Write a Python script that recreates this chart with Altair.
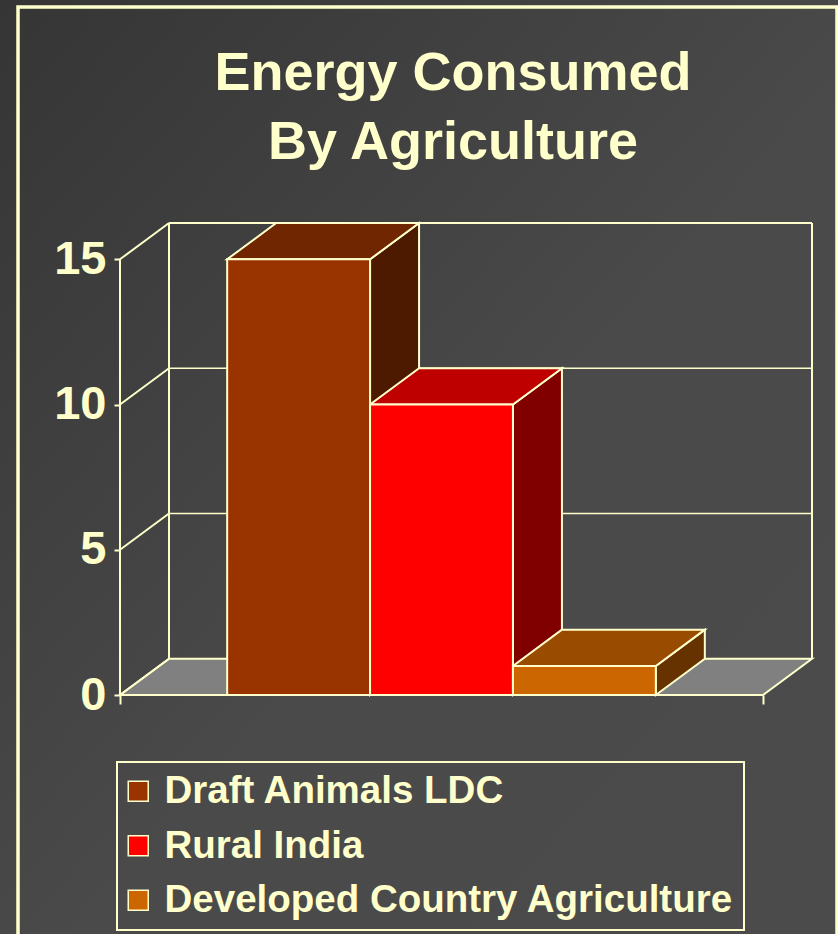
import altair as alt
import pandas as pd

# ---- data -------------------------------------------------------------
categories = ["Draft Animals LDC", "Rural India", "Developed Country Agriculture"]
values = [15, 10, 1]
y_ticks = [0, 5, 10, 15]
title_lines = ["Energy Consumed", "By Agriculture"]

# face colours per bar: front / top / right side
front_colors = ["#993300", "#ff0000", "#cc6600"]
top_colors = ["#702600", "#bf0000", "#994c00"]
side_colors = ["#4d1a00", "#800000", "#663300"]

INK = "#ffffcc"
FONT = "Liberation Sans"

# oblique depth of the pseudo-3D box (x in category steps, y in value units)
OUTER = 0.75
DX = 0.343
DY = 1.249
W = len(categories) + 2 * OUTER
Y_MAX = max(y_ticks)

x_scale = alt.Scale(domain=[0, W + DX], nice=False, zero=False)
y_scale = alt.Scale(domain=[0, Y_MAX + DY], nice=False, zero=False)

x_axis = alt.Axis(values=[0, W], title=None, labels=False, grid=False, domain=False,
                  ticks=True, tickColor=INK, tickWidth=2, tickSize=9, zindex=1)
y_axis = alt.Axis(values=y_ticks, title=None, grid=False, domain=False, ticks=True,
                  tickColor=INK, tickWidth=2, tickSize=6, labelColor=INK, labelFont=FONT,
                  labelFontSize=47, labelFontWeight="bold", labelPadding=8, zindex=1)

# ---- geometry tables built from the data --------------------------------
fronts, tops, sides = [], [], []
for i, (cat, v) in enumerate(zip(categories, values)):
    x0 = OUTER + i
    x1 = x0 + 1
    fronts.append({"cat": cat, "x0": x0, "x1": x1, "v": v, "base": 0})
    tops.append({"cat": cat, "y": v, "xa": x0, "xb": x1, "fill": top_colors[i]})
    tops.append({"cat": cat, "y": v + DY, "xa": x0 + DX, "xb": x1 + DX, "fill": top_colors[i]})
    sides.append({"cat": cat, "x": x1, "ya": 0, "yb": v, "fill": side_colors[i]})
    sides.append({"cat": cat, "x": x1 + DX, "ya": DY, "yb": v + DY, "fill": side_colors[i]})

fronts = pd.DataFrame(fronts)
tops = pd.DataFrame(tops)
sides = pd.DataFrame(sides)

floor = pd.DataFrame([
    {"y": 0, "xa": 0, "xb": W},
    {"y": DY, "xa": DX, "xb": W + DX},
])

segs = []
for t in y_ticks:
    segs.append({"xs": 0, "xe": DX, "ys": t, "ye": t + DY, "w": 2})
    if t > 0:
        segs.append({"xs": DX, "xe": W + DX, "ys": t + DY, "ye": t + DY,
                     "w": 2 if t == Y_MAX else 1.5})
segs.append({"xs": DX, "xe": DX, "ys": DY, "ye": Y_MAX + DY, "w": 2})
segs.append({"xs": W + DX, "xe": W + DX, "ys": DY, "ye": Y_MAX + DY, "w": 2})
segs.append({"xs": 0, "xe": 0, "ys": 0, "ye": Y_MAX, "w": 2})
segs = pd.DataFrame(segs)

one = pd.DataFrame({"k": [0]})

# ---- layers -----------------------------------------------------------
background = alt.Chart(one).mark_rect(
    fill=alt.Gradient(
        gradient="linear",
        stops=[alt.GradientStop(offset=0, color="#353535"),
               alt.GradientStop(offset=0.55, color="#4a4a4a"),
               alt.GradientStop(offset=1, color="#4b4b4b")],
        x1=0, y1=0, x2=1, y2=1),
).encode(x=alt.value(-120), x2=alt.value(718), y=alt.value(-223), y2=alt.value(711))

frame = alt.Chart(one).mark_rect(fill=None, stroke=INK, strokeWidth=3.5).encode(
    x=alt.value(-102), x2=alt.value(717), y=alt.value(-216), y2=alt.value(725))

# two-line heading, one text mark per line
title_marks = [
    alt.Chart(one).mark_text(
        text=line, font=FONT, fontSize=54, fontWeight="bold", color=INK,
        align="center", baseline="alphabetic",
    ).encode(x=alt.value(333), y=alt.value(y))
    for line, y in zip(title_lines, [-133, -64])
]

floor_layer = alt.Chart(floor).mark_area(
    orient="horizontal", fill="#808080", stroke=INK, strokeWidth=2
).encode(
    y=alt.Y("y:Q", scale=y_scale, axis=y_axis),
    x=alt.X("xa:Q", scale=x_scale, axis=x_axis, stack=None),
    x2="xb:Q",
)

seg_layer = alt.Chart(segs).mark_rule(color=INK).encode(
    x=alt.X("xs:Q", scale=x_scale, axis=x_axis),
    x2="xe:Q",
    y=alt.Y("ys:Q", scale=y_scale, axis=y_axis),
    y2="ye:Q",
    strokeWidth=alt.StrokeWidth("w:Q", scale=None),
)

side_layer = alt.Chart(sides).mark_area(
    orient="vertical", stroke=INK, strokeWidth=2
).encode(
    x=alt.X("x:Q", scale=x_scale, axis=x_axis),
    y=alt.Y("ya:Q", scale=y_scale, axis=y_axis, stack=None),
    y2="yb:Q",
    detail="cat:N",
    fill=alt.Fill("fill:N", scale=None),
)

top_layer = alt.Chart(tops).mark_area(
    orient="horizontal", stroke=INK, strokeWidth=2
).encode(
    y=alt.Y("y:Q", scale=y_scale, axis=y_axis),
    x=alt.X("xa:Q", scale=x_scale, axis=x_axis, stack=None),
    x2="xb:Q",
    detail="cat:N",
    fill=alt.Fill("fill:N", scale=None),
)

front_layer = alt.Chart(fronts).mark_rect(stroke=INK, strokeWidth=2).encode(
    x=alt.X("x0:Q", scale=x_scale, axis=x_axis),
    x2="x1:Q",
    y=alt.Y("v:Q", scale=y_scale, axis=y_axis),
    y2="base:Q",
    color=alt.Color(
        "cat:N",
        scale=alt.Scale(domain=categories, range=front_colors),
        legend=alt.Legend(
            title=None, orient="none", legendX=-3, legendY=539, direction="vertical",
            symbolType="square", symbolSize=400, symbolStrokeColor=INK,
            symbolStrokeWidth=1.5, symbolOpacity=1, symbolOffset=-8,
            labelFont=FONT, labelFontSize=38.5, labelFontWeight="bold", labelColor=INK,
            labelLimit=1000, labelOffset=7, rowPadding=15.5, padding=10,
            strokeColor=INK, zindex=1,
        ),
    ),
)

chart = alt.layer(
    background, frame, *title_marks, floor_layer, seg_layer, side_layer, top_layer, front_layer
).properties(
    width=692,
    height=472,
    autosize=alt.AutoSizeParams(type="none"),
    padding={"left": 120, "top": 223, "right": 26, "bottom": 239},
    background="#444444",
).configure_view(stroke=None).configure_legend(strokeWidth=2)

chart.save("out.html", embed_options={"renderer": "svg", "actions": False})
